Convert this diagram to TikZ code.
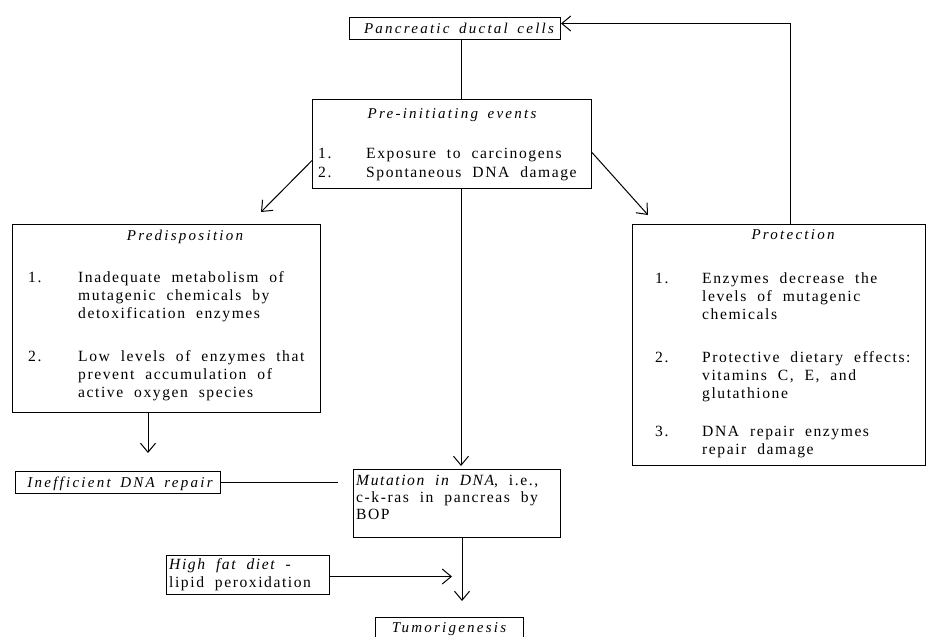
\documentclass[tikz,border=0pt]{standalone}
\usepackage{fontspec}
\setmainfont{Liberation Serif}[LetterSpace=10,WordSpace={2,1,1}]
\newfontfamily\titfont{Liberation Serif}[LetterSpace=15,WordSpace={1.6,1,1}]
\usetikzlibrary{arrows.meta}
\tikzset{
  box/.style={draw, line width=1pt, inner sep=0pt, anchor=north west},
  txt/.style={inner sep=0pt, anchor=base west, font=\fontsize{15.6}{18}\selectfont},
  ttl/.style={inner sep=0pt, anchor=base, font=\fontsize{15}{18}\selectfont\titfont\itshape},
  conn/.style={line width=1pt},
  arr/.style={line width=1pt, -{Straight Barb[length=9pt,width=15pt,line width=1pt]}}
}
\begin{document}
\begin{tikzpicture}[x=1pt,y=-1pt]
\useasboundingbox (0,0) rectangle (929,637);
\clip (0,0) rectangle (929,637);
% boxes
\node[box, minimum width=211pt, minimum height=22pt] (ductal) at (349,17) {};
\node[box, minimum width=279pt, minimum height=89pt] (pre) at (312,99) {};
\node[box, minimum width=308pt, minimum height=188pt] (predisp) at (12,224) {};
\node[box, minimum width=293pt, minimum height=241pt] (prot) at (632,224) {};
\node[box, minimum width=205pt, minimum height=22pt] (ineff) at (15,471) {};
\node[box, minimum width=207pt, minimum height=68pt] (mut) at (353,469) {};
\node[box, minimum width=163pt, minimum height=39pt] (fat) at (166,555) {};
\node[box, minimum width=148pt, minimum height=40pt] (tumor) at (375,617) {};
% texts
\node[ttl] (tductal) at (459,33) {Pancreatic ductal cells};
\node[ttl] (tpre) at (452,118) {Pre-initiating events};
\node[txt] (lpre) at (318,158) {\renewcommand{\arraystretch}{1.1}\begin{tabular}[t]{@{}p{48pt}@{}l@{}}
1. & Exposure to carcinogens\\
2. & Spontaneous DNA damage\end{tabular}};
\node[ttl] (tpredisp) at (185,240) {Predisposition};
\node[txt] (lpredisp) at (28,282) {\begin{tabular}[t]{@{}p{50pt}@{}l@{}}
1. & Inadequate metabolism of\\
 & mutagenic chemicals by\\
 & detoxification enzymes\\[25pt]
2. & Low levels of enzymes that\\
 & prevent accumulation of\\
 & active oxygen species\end{tabular}};
\node[ttl] (tprot) at (793,239) {Protection};
\node[txt] (lprot) at (655,283) {\begin{tabular}[t]{@{}p{47pt}@{}l@{}}
1. & Enzymes decrease the\\
 & levels of mutagenic\\
 & chemicals\\[25pt]
2. & Protective dietary effects:\\
 & vitamins C, E, and\\
 & glutathione\\[20pt]
3. & DNA repair enzymes\\
 & repair damage\end{tabular}};
\node[ttl] (tineff) at (120,487) {Inefficient DNA repair};
\node[txt] (lmut) at (356,485) {\renewcommand{\arraystretch}{0.95}\begin{tabular}[t]{@{}l@{}}
\textit{Mutation in DNA}, i.e.,\\
c-k-ras in pancreas by\\
BOP\end{tabular}};
\node[txt] (lfat) at (169,569) {\begin{tabular}[t]{@{}l@{}}
\textit{High fat diet -}\\
lipid peroxidation\end{tabular}};
\node[ttl] (ttumor) at (449,632) {Tumorigenesis};
% helper coordinates
\coordinate (xa) at (461,0);
\coordinate (xb) at (148,0);
\coordinate (xc) at (462,0);
\coordinate (xd) at (452,0);
\coordinate (xe) at (790,0);
% connectors
\draw[conn] (ductal.south -| xa) -- (pre.north -| xa);
\draw[arr] ([yshift=-16.5pt]pre.west) -- ([shift={(-60pt,12pt)}]predisp.north east);
\draw[arr] ([yshift=-8.5pt]pre.east) -- ([shift={(16pt,9pt)}]prot.north west);
\draw[arr, shorten >=3pt] (pre.south -| xa) -- (mut.north -| xa);
\draw[arr, shorten >=18pt] (predisp.south -| xb) -- (ineff.north -| xb);
\draw[conn, shorten >=15pt] (ineff.east) -- (ineff.east -| mut.west);
\draw[arr, shorten >=16pt] (mut.south -| xc) -- (tumor.north -| xc);
\draw[arr] ([yshift=-1.5pt]fat.east) -- ([yshift=-1.5pt]fat.east -| xd);
\draw[arr] (prot.north -| xe) |- ([yshift=5pt]ductal.east);
\end{tikzpicture}
\end{document}
